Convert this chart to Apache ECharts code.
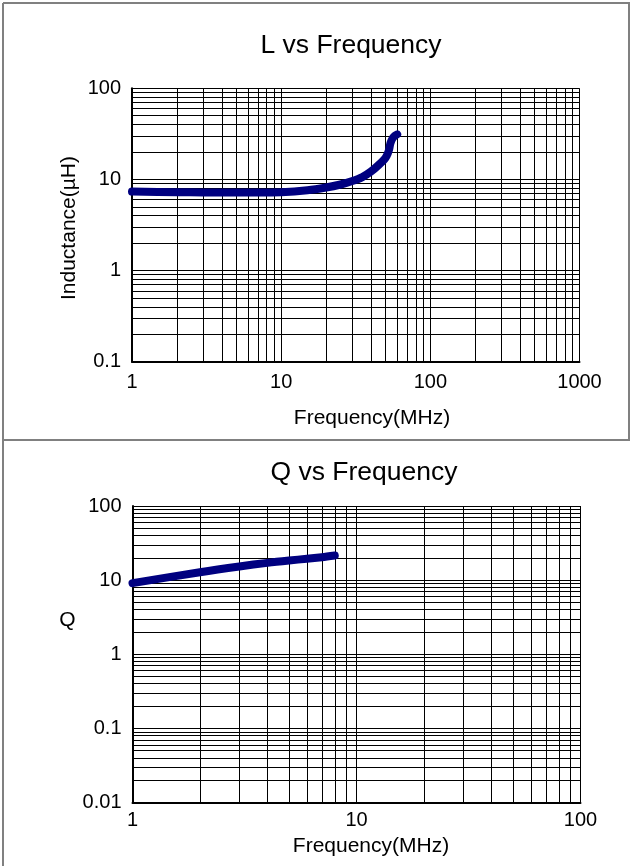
<!DOCTYPE html>
<html><head><meta charset="utf-8">
<script src="https://cdn.jsdelivr.net/npm/echarts@6/dist/echarts.min.js"></script>
<style>html,body{margin:0;padding:0;background:#fff}#c{width:630px;height:866px}</style>
</head><body><div id="c"></div>
<script>
// ---- data ----
const lFreq   = [1, 2, 3, 5, 7, 10, 15, 20, 25, 30, 35, 40, 45, 50, 52, 53, 54, 56, 58, 60];
const lValues = [7.35, 7.25, 7.2, 7.2, 7.2, 7.25, 7.6, 8.15, 8.8, 9.6, 10.6, 12.2, 14.4, 17.2, 19.5, 21.5, 25, 28.5, 30.3, 31.2];
const qFreq   = [1, 2, 3, 4, 5, 6, 7, 8];
const qValues = [9.1, 12.8, 15.3, 17.1, 18.4, 19.4, 20.4, 21.5];
const lXTicks = [1, 10, 100, 1000];
const lYTicks = [0.1, 1, 10, 100];
const qXTicks = [1, 10, 100];
const qYTicks = [0.01, 0.1, 1, 10, 100];
const titles = ['L vs Frequency', 'Q vs Frequency'];
const xName = 'Frequency(MHz)';
const lYName = 'Inductance(µH)';
const qYName = 'Q';

const FONT = '"Liberation Sans", Arial, sans-serif';
function minors(ticks) {
  const out = [];
  for (let i = 0; i < ticks.length - 1; i++) {
    for (let k = 2; k <= 9; k++) out.push(+(k * ticks[i]).toPrecision(6));
  }
  return out;
}
const fmt = v => String(+(+v).toPrecision(6));

function xAxisCfg(gi, ticks, margin) {
  return {
    type: 'log', logBase: 10, gridIndex: gi, min: ticks[0], max: ticks[ticks.length - 1],
    axisLine: { show: true, onZero: false, lineStyle: { color: '#000', width: 2 } },
    axisTick: { show: true, inside: true, length: 5, lineStyle: { color: '#000', width: 1 } },
    axisLabel: { color: '#000', fontSize: 20, fontFamily: FONT, margin: margin, formatter: fmt },
    splitLine: { show: true, lineStyle: { color: '#000', width: 1 } },
    minorTick: { show: false }, minorSplitLine: { show: false }
  };
}
function yAxisCfg(gi, ticks) {
  return {
    type: 'log', logBase: 10, gridIndex: gi, min: ticks[0], max: ticks[ticks.length - 1],
    axisLine: { show: true, onZero: false, lineStyle: { color: '#000', width: 2 } },
    axisTick: { show: true, inside: true, length: 5, lineStyle: { color: '#000', width: 1 } },
    axisLabel: { color: '#000', fontSize: 20, fontFamily: FONT, margin: 11, formatter: fmt },
    splitLine: { show: true, lineStyle: { color: '#000', width: 1 } },
    minorTick: { show: false }, minorSplitLine: { show: false }
  };
}
function gridSeries(gi, xt, yt) {
  const data = minors(xt).map(v => ({ xAxis: v })).concat(minors(yt).map(v => ({ yAxis: v })));
  return {
    type: 'line', xAxisIndex: gi, yAxisIndex: gi, data: [[xt[0], yt[0]]],
    showSymbol: false, lineStyle: { opacity: 0 }, silent: true, z: 1,
    markLine: {
      silent: true, symbol: ['none', 'none'], label: { show: false }, animation: false,
      lineStyle: { color: '#000', width: 1, type: 'solid', opacity: 1 },
      emphasis: { disabled: true },
      data: data
    }
  };
}
function curve(gi, fs, vs) {
  return {
    type: 'line', xAxisIndex: gi, yAxisIndex: gi, z: 5,
    data: fs.map((f, i) => [f, vs[i]]),
    showSymbol: false, smooth: 0.3, clip: false,
    lineStyle: { color: '#000080', width: 8, cap: 'round', join: 'round' }
  };
}
function txt(text, x, y, size, rot) {
  return { type: 'text', x: x, y: y, rotation: rot || 0, z: 10,
    style: { text: text, fill: '#000', font: size + 'px ' + FONT, textAlign: 'center', textVerticalAlign: 'middle' } };
}
function ln(x1, y1, x2, y2) {
  return { type: 'line', shape: { x1, y1, x2, y2 }, z: 10, style: { stroke: '#808080', lineWidth: 2 } };
}

const chart = echarts.init(document.getElementById('c'), null, { renderer: 'canvas' });
chart.setOption({
  animation: false,
  backgroundColor: '#fff',
  grid: [
    { left: 132, right: 50.5, top: 88.3, height: 273.4 },
    { left: 132.5, right: 49.5, top: 506, height: 296.5 }
  ],
  xAxis: [xAxisCfg(0, lXTicks, 11), xAxisCfg(1, qXTicks, 8)],
  yAxis: [yAxisCfg(0, lYTicks), yAxisCfg(1, qYTicks)],
  series: [
    gridSeries(0, lXTicks, lYTicks),
    gridSeries(1, qXTicks, qYTicks),
    curve(0, lFreq, lValues),
    curve(1, qFreq, qValues)
  ],
  graphic: [
    ln(3, 3, 630, 3), ln(3, 3, 3, 866), ln(3, 440, 630, 440), ln(629, 3, 629, 440),
    txt(titles[0], 351, 46, 26.5),
    txt(titles[1], 364, 473, 26.5),
    txt(xName, 372, 418, 21),
    txt(xName, 371, 846, 21),
    txt(lYName, 69, 228, 21, Math.PI / 2),
    txt(qYName, 67.5, 620, 21)
  ]
});
</script></body></html>
